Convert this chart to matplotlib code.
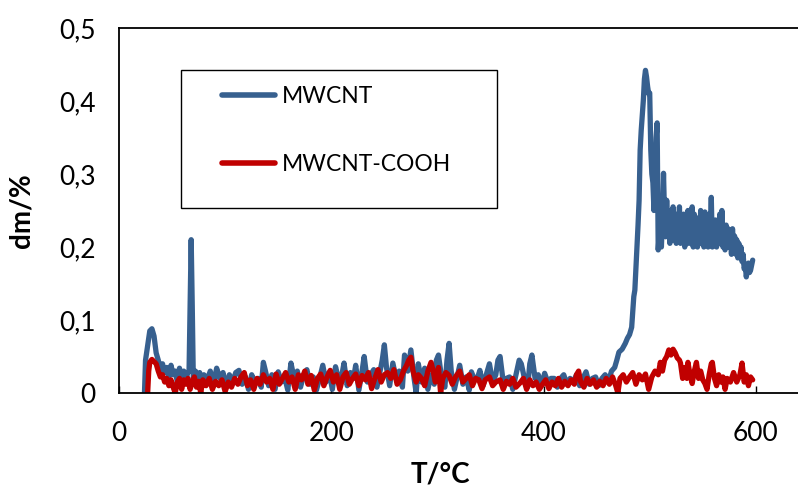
import matplotlib
matplotlib.use("Agg")
import matplotlib.pyplot as plt
from matplotlib.patches import Rectangle

plt.rcParams['font.family'] = ['Lato', 'DejaVu Sans']

# ---- data ----
blue_T = [24, 25, 27, 29, 31, 33, 35, 37, 39, 41, 43, 45, 47, 49, 51, 53, 55, 57, 59, 61, 63, 65, 66, 67, 68, 69, 70,
          72, 74, 76, 78, 80, 83, 86, 89, 92, 95, 98, 101, 104, 107, 110, 113, 116, 119, 122, 125, 128, 131, 134, 136,
          138, 141, 144, 147, 150, 153, 156, 159, 162, 165, 168, 171, 174, 177, 180, 183, 186, 189, 192, 195, 198, 201,
          204, 207, 210, 212, 215, 218, 221, 223, 226, 229, 231, 234, 237, 240, 243, 246, 248, 250, 252, 255, 258, 261,
          264, 267, 269, 272, 275, 278, 280, 282, 285, 288, 291, 294, 297, 299, 301, 304, 307, 309, 311, 313, 316, 319,
          321, 324, 327, 330, 332, 335, 338, 340, 343, 346, 349, 352, 355, 357, 359, 362, 365, 368, 371, 374, 377, 379,
          382, 385, 387, 389, 392, 395, 398, 401, 404, 407, 410, 413, 416, 419, 422, 425, 428, 431, 434, 437, 440, 443,
          446, 449, 452, 455, 458, 461, 464, 467, 469, 471, 474, 477, 479, 481, 483, 484, 485, 486, 487, 488, 489, 490,
          491, 492, 494, 495, 496, 497, 498, 499, 500, 501, 502, 503, 504,
          505, 506, 507, 508, 509, 510, 511, 512, 513, 514, 515, 516, 517, 518, 519, 520, 521, 522, 523, 524, 525, 526,
          527, 528, 529, 530, 531, 532, 533, 534, 535, 536, 537, 538, 539, 540, 541, 542, 543, 544, 545, 546, 547, 548,
          549, 550, 551, 552, 553, 554, 555, 556, 557, 558, 559, 560, 561, 562, 563, 564, 565, 566, 567, 568, 569, 570,
          571, 572, 573, 574, 575, 576, 577, 578, 579, 580, 581, 582, 583, 584, 585, 586, 587, 588, 589, 590, 591, 592,
          593, 594, 595, 596, 597]
blue_dm = [0.0, 0.045, 0.065, 0.085, 0.088, 0.078, 0.055, 0.045, 0.032, 0.04, 0.028, 0.035, 0.022, 0.038, 0.025, 0.03,
           0.015, 0.034, 0.018, 0.03, 0.02, 0.028, 0.03, 0.12, 0.21, 0.12, 0.02,
           0.03, 0.015, 0.028, 0.01, 0.025, 0.018, 0.03, 0.012, 0.034, 0.02, 0.028, 0.008, 0.025, 0.015, 0.028, 0.031,
           0.012, 0.022, 0.005, 0.025, 0.015, 0.02, 0.008, 0.042,
           0.03, 0.01, 0.025, 0.005, 0.029, 0.015, 0.022, 0.004, 0.041, 0.02, 0.03, 0.008, 0.025, 0.032, 0.012, 0.022,
           0.004, 0.02, 0.038, 0.015, 0.028, 0.005,
           0.036, 0.018, 0.025, 0.041, 0.01, 0.028, 0.02, 0.038, 0.004, 0.03, 0.05, 0.015, 0.025, 0.032, 0.008, 0.03,
           0.045, 0.066, 0.035, 0.01, 0.041, 0.02,
           0.03, 0.008, 0.052, 0.03, 0.059, 0.02, 0.0, 0.04, 0.015, 0.034, 0.005, 0.025, 0.012, 0.045, 0.052, 0.02,
           0.008, 0.045, 0.068, 0.03, 0.005, 0.025,
           0.038, 0.012, 0.022, 0.004, 0.029, 0.018, 0.022, 0.031, 0.01, 0.025, 0.04, 0.015, 0.025, 0.045, 0.05, 0.015,
           0.02, 0.022, 0.005, 0.025, 0.045, 0.04,
           0.02, 0.008, 0.04, 0.052, 0.02, 0.025, 0.01, 0.027, 0.015, 0.02, 0.02, 0.008, 0.02, 0.025, 0.012, 0.02,
           0.015, 0.025, 0.01, 0.02, 0.029, 0.012,
           0.02, 0.022, 0.01, 0.02, 0.025, 0.015, 0.03, 0.035, 0.045, 0.056, 0.06, 0.068, 0.075, 0.08, 0.09, 0.11,
           0.132, 0.141, 0.17, 0.196, 0.23, 0.264,
           0.333, 0.36, 0.401, 0.43, 0.442, 0.433, 0.42, 0.41, 0.411, 0.333, 0.3, 0.288, 0.25,
           0.3, 0.35, 0.37, 0.196, 0.22, 0.264, 0.2, 0.241, 0.301, 0.24, 0.214, 0.264, 0.22, 0.237, 0.205, 0.25, 0.215,
           0.255, 0.21, 0.235, 0.205, 0.245,
           0.215, 0.255, 0.205, 0.235, 0.21, 0.245, 0.2, 0.24, 0.21, 0.25, 0.205, 0.23, 0.215, 0.255, 0.2, 0.245, 0.21,
           0.24, 0.2, 0.235, 0.205, 0.25,
           0.21, 0.24, 0.2, 0.248, 0.205, 0.23, 0.2, 0.245, 0.215, 0.268, 0.2, 0.23, 0.205, 0.237, 0.2, 0.235, 0.205,
           0.245, 0.21, 0.25, 0.2, 0.225,
           0.196, 0.23, 0.2, 0.225, 0.2, 0.22, 0.19, 0.225, 0.2, 0.215, 0.19, 0.21, 0.185, 0.205, 0.19, 0.2, 0.18, 0.19,
           0.17, 0.175, 0.159, 0.17,
           0.178, 0.165, 0.168, 0.175, 0.182]

red_T = [27, 28, 29, 31, 33, 35, 37, 39, 41, 43, 45, 47, 49, 51, 53, 55, 57, 59, 61, 63, 65, 67, 69, 71, 73, 75, 77,
         79, 82, 85, 88, 91, 94, 97, 100, 103, 106, 109, 112, 115, 118, 121, 124, 127, 130, 133, 136, 139, 142, 145,
         148, 151, 154, 157, 160, 163, 166, 169, 172, 175, 178, 181, 184, 187, 190, 193, 196, 199, 202, 205, 208, 211,
         214, 217, 220, 223, 226, 229, 232, 235, 238, 241, 244, 247, 250, 253, 256, 259, 262, 265, 268, 271, 273, 275,
         277, 280, 282, 285, 288, 291, 294, 296, 298, 301, 303, 305, 308, 311, 314, 317, 321, 324, 327, 330, 333, 336,
         339, 342, 345, 349, 352, 355, 359, 362, 365, 368, 371, 374, 378, 381, 384, 387, 390, 393, 396, 399, 402, 405,
         408, 411, 414, 417, 420, 423, 426, 429, 431, 433, 435, 438, 441, 444, 447, 450, 453, 456, 459, 462, 465, 468,
         470, 472, 475, 478, 481, 484, 487, 490, 493, 496, 499, 502, 505, 508, 510, 512, 514, 516, 518, 520, 522, 524,
         526, 528, 529, 531, 533, 535, 536, 538, 540, 542, 544, 546, 548, 550, 552, 554, 556, 558, 559, 561, 563, 565,
         567, 569, 571, 573, 576, 579, 582, 585, 587, 589, 591, 593, 595, 597]
red_dm = [0.0, 0.03, 0.042, 0.046, 0.043, 0.04, 0.03, 0.022, 0.025, 0.015, 0.02, 0.01, 0.018, 0.008, 0.0, 0.015, 0.02,
          0.005, 0.018, 0.012, 0.02, 0.005, 0.015, 0.022, 0.008, 0.016, 0.0,
          0.018, 0.01, 0.02, 0.005, 0.016, 0.01, 0.018, 0.002, 0.015, 0.008, 0.02, 0.012, 0.022, 0.028, 0.01, 0.018,
          0.005, 0.02, 0.012, 0.025, 0.015, 0.02, 0.005,
          0.026, 0.012, 0.02, 0.028, 0.015, 0.022, 0.005, 0.025, 0.018, 0.03, 0.012, 0.024, 0.004, 0.02, 0.026, 0.01,
          0.022, 0.031, 0.015, 0.025, 0.005, 0.022,
          0.028, 0.012, 0.02, 0.026, 0.01, 0.024, 0.018, 0.028, 0.006, 0.02, 0.032, 0.015, 0.025, 0.028, 0.02, 0.032,
          0.012, 0.018, 0.03, 0.038, 0.045, 0.049,
          0.03, 0.015, 0.025, 0.02, 0.01, 0.03, 0.042, 0.03, 0.015, 0.035, 0.0, 0.02, 0.028, 0.024, 0.012, 0.022, 0.03,
          0.015, 0.02, 0.025, 0.01, 0.02,
          0.018, 0.006, 0.018, 0.022, 0.01, 0.015, 0.018, 0.005, 0.016, 0.012, 0.02, 0.008, 0.014, 0.02, 0.005, 0.018,
          0.01, 0.015, 0.005, 0.012, 0.018, 0.006,
          0.015, 0.01, 0.02, 0.008, 0.016, 0.01, 0.018, 0.012, 0.025, 0.03, 0.015, 0.008, 0.02, 0.012, 0.018, 0.008,
          0.016, 0.01, 0.02, 0.012, 0.022, 0.01,
          0.0, 0.02, 0.025, 0.015, 0.022, 0.028, 0.012, 0.025, 0.018, 0.026, 0.005, 0.022, 0.03, 0.025, 0.042, 0.03,
          0.045, 0.05, 0.059, 0.052, 0.06, 0.055,
          0.048, 0.045, 0.041, 0.02, 0.035, 0.02, 0.042, 0.025, 0.013, 0.03, 0.042, 0.02, 0.03, 0.018, 0.013, 0.005,
          0.025, 0.04, 0.042, 0.02, 0.01, 0.025,
          0.015, 0.022, 0.005, 0.02, 0.015, 0.028, 0.015, 0.025, 0.041, 0.015, 0.025, 0.01, 0.022, 0.018]

series_labels = ['MWCNT', 'MWCNT-COOH']
x_ticks = [0, 200, 400, 600]
y_ticks = [0, 0.1, 0.2, 0.3, 0.4, 0.5]
y_ticklabels = ['0', '0,1', '0,2', '0,3', '0,4', '0,5']

BLUE = '#37608f'
RED = '#c00000'

fig = plt.figure(figsize=(7.98, 4.95), dpi=100)
ax = fig.add_axes([119 / 798, 102 / 495, 743 / 798, 365 / 495])

l1, = ax.plot(blue_T, blue_dm, color=BLUE, lw=3.8, solid_joinstyle='round', solid_capstyle='round', label=series_labels[0])
l2, = ax.plot(red_T, red_dm, color=RED, lw=3.8, solid_joinstyle='round', solid_capstyle='round', label=series_labels[1])

ax.set_xlim(0, 700)
ax.set_ylim(0, 0.5)
ax.set_xticks(x_ticks)
ax.set_xticklabels([str(t) for t in x_ticks])
ax.set_yticks(y_ticks)
ax.set_yticklabels(y_ticklabels)

ax.tick_params(axis='x', direction='in', length=5, width=1, labelsize=19, pad=20)
ax.tick_params(axis='y', length=0, labelsize=19, pad=17)
for s in ax.spines.values():
    s.set_linewidth(1.3)
    s.set_color('black')

ax.set_xlabel('T/°C', fontsize=20, fontweight='bold')
ax.xaxis.set_label_coords((440 - 119) / 743, -(461 - 393) / 365)
ax.set_ylabel('dm/%', fontsize=20, fontweight='bold')
ax.yaxis.set_label_coords(-(119 - 35) / 743, 0.5)

# legend frame and entries
fx0, fx1 = (181 - 119) / 743, (497 - 119) / 743
fy0, fy1 = (393 - 208) / 365, (393 - 70) / 365
ax.add_patch(Rectangle((fx0, fy0), fx1 - fx0, fy1 - fy0, transform=ax.transAxes,
                       fill=False, edgecolor='black', lw=1.0, zorder=5))
leg = ax.legend(handles=[l1, l2], loc='upper left', frameon=False, fontsize=16.5,
                bbox_to_anchor=((222 - 119) / 743, (393 - 86) / 365),
                borderpad=0, borderaxespad=0, handlelength=2.3, handletextpad=0.3,
                labelspacing=2.05)
for h in leg.get_lines():
    h.set_linewidth(4.0)

fig.savefig('out.png', dpi=100)
